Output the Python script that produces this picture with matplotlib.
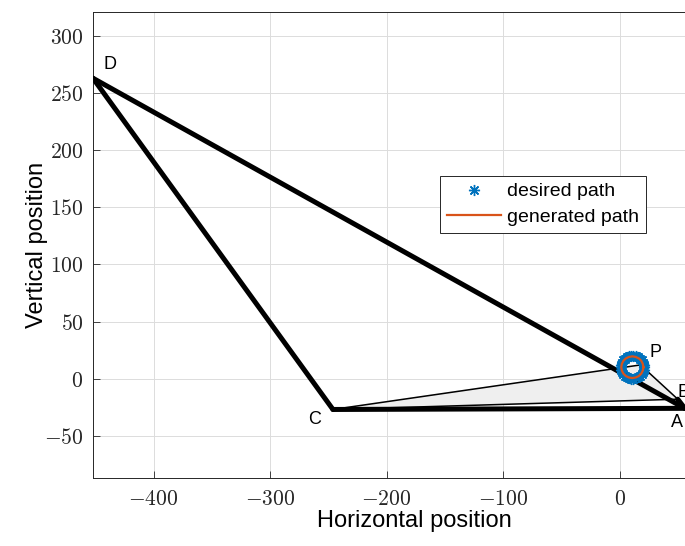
import numpy as np
import matplotlib
matplotlib.use("Agg")
import matplotlib.pyplot as plt
from matplotlib.ticker import FuncFormatter

# linkage joints (data coordinates)
joint_names = ["A", "B", "C", "D", "P"]
joint_x = [56, 50, -246, -452, 18]
joint_y = [-26, -18, -27, 263, 12]

# desired path (asterisks)
desired_x = [21.0, 20.8, 20.1, 19.1, 17.7, 16.0, 14.1, 12.0, 10.0, 7.9,
             6.0, 4.3, 2.9, 1.9, 1.2, 1.0, 1.2, 1.9, 2.9, 4.3,
             6.0, 7.9, 10.0, 12.0, 14.1, 16.0, 17.7, 19.1, 20.1, 20.8]
desired_y = [10.0, 12.1, 14.1, 15.9, 17.4, 18.7, 19.5, 20.0, 20.0, 19.5,
             18.7, 17.4, 15.9, 14.1, 12.1, 10.0, 7.9, 5.9, 4.1, 2.6,
             1.3, 0.5, 0.0, 0.0, 0.5, 1.3, 2.6, 4.1, 5.9, 7.9]

# generated path (line)
generated_x = [20.5, 20.0, 18.7, 16.6, 13.9, 11.0, 8.1, 5.4, 3.3, 2.0, 1.5,
               2.0, 3.3, 5.4, 8.1, 11.0, 13.9, 16.6, 18.7, 20.0, 20.5]
generated_y = [10.0, 12.9, 15.6, 17.7, 19.0, 19.5, 19.0, 17.7, 15.6, 12.9, 10.0,
               7.1, 4.4, 2.3, 1.0, 0.5, 1.0, 2.3, 4.4, 7.1, 10.0]

xticks = [-400, -300, -200, -100, 0]
yticks = [-50, 0, 50, 100, 150, 200, 250, 300]

plt.rcParams['mathtext.fontset'] = 'cm'
label_font = ['Liberation Sans', 'DejaVu Sans']

J = {n: (x, y) for n, x, y in zip(joint_names, joint_x, joint_y)}

fig = plt.figure(figsize=(6.85, 5.46), dpi=100)
ax = fig.add_axes([93 / 685, 1 - 478 / 546, 643 / 685, 466 / 546])

# coupler triangle C-P-B
tri = [J["C"], J["P"], J["B"]]
ax.fill([p[0] for p in tri], [p[1] for p in tri], color='#efefef', zorder=2)
for a, b in [("C", "P"), ("P", "B"), ("C", "B")]:
    ax.plot([J[a][0], J[b][0]], [J[a][1], J[b][1]], color='k', lw=1.1, zorder=3)

# thick links
for a, b in [("D", "C"), ("D", "A"), ("C", "A"), ("B", "A")]:
    ax.plot([J[a][0], J[b][0]], [J[a][1], J[b][1]], color='k', lw=3.6,
            solid_capstyle='round', zorder=4)

ax.plot(desired_x, desired_y, linestyle='none', marker=(8, 2, 0), markersize=8,
        markeredgewidth=1.0, color='#0072BD', label='desired path', zorder=5)
ax.plot(generated_x, generated_y, color='#D95319', lw=1.6,
        label='generated path', zorder=6)

# joint labels
offsets = {"A": (-7, -12), "B": (5, 6), "C": (-16, -9), "D": (15, 12), "P": (13, 11)}
for n in joint_names:
    dx, dy = offsets[n]
    ax.text(J[n][0] + dx, J[n][1] + dy, n, fontsize=13, family=label_font,
            ha='center', va='center', zorder=7)

ax.set_xlim(-452, 100)
ax.set_ylim(-87, 321)
ax.set_xticks(xticks)
ax.set_yticks(yticks)
fmt = FuncFormatter(lambda v, p: r'$%d$' % v)
ax.xaxis.set_major_formatter(fmt)
ax.yaxis.set_major_formatter(fmt)
ax.tick_params(direction='in', labelsize=15.5, length=5, width=0.6,
               colors='#262626', top=False, right=False)
ax.tick_params(axis='x', pad=8)
ax.tick_params(axis='y', pad=7)
ax.grid(True, color='#dcdcdc', lw=0.7)
ax.set_axisbelow(True)
for s in ax.spines.values():
    s.set_color('#262626')
    s.set_linewidth(0.7)

ax.set_xlabel('Horizontal position', fontsize=17, family=label_font, labelpad=1)
ax.set_ylabel('Vertical position', fontsize=17, family=label_font, labelpad=-3)

leg = ax.legend(loc='upper left', bbox_to_anchor=(440 / 685, 1 - 176 / 546),
                bbox_transform=fig.transFigure, fancybox=False, framealpha=1,
                edgecolor='#262626', prop={'family': label_font, 'size': 14},
                borderpad=0.35, labelspacing=0.4, handlelength=2.8,
                handletextpad=0.3, borderaxespad=0)
leg.get_frame().set_linewidth(0.7)

fig.savefig('out.png', dpi=100)
